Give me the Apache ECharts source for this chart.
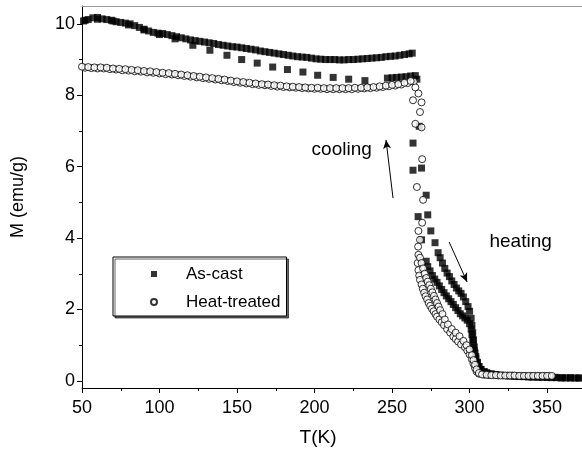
<!DOCTYPE html>
<html>
<head>
<meta charset="utf-8">
<script src="https://cdn.jsdelivr.net/npm/echarts@6/dist/echarts.min.js"></script>
<style>
  html, body { margin: 0; padding: 0; background: #fff; }
  #chart { width: 582px; height: 455px; }
</style>
</head>
<body>
<div id="chart"></div>
<script>
var FONT = "'Liberation Sans', Arial, sans-serif";

// tick labels
var xMajor = [50, 100, 150, 200, 250, 300, 350];
var xMinor = [75, 125, 175, 225, 275, 325, 375];
var yMajor = [0, 2, 4, 6, 8, 10];
var yMinor = [1, 3, 5, 7, 9];

// As-cast (filled squares), two branches [T (K), M (emu/g)]
var asCastHeat = [
  [51, 10.08], [54, 10.12], [57, 10.17], [60, 10.18], [63, 10.14], [66, 10.12], [69, 10.1], [72, 10.06],
  [75, 10.04], [78, 10.02], [81, 10.0], [84, 9.95], [87, 9.9], [90, 9.85], [93, 9.8], [96, 9.76],
  [99, 9.74], [102, 9.73], [105, 9.7], [108, 9.67], [111, 9.64], [114, 9.61], [117, 9.58], [120, 9.55],
  [123, 9.53], [126, 9.51], [129, 9.49], [132, 9.47], [135, 9.45], [138, 9.42], [141, 9.4], [144, 9.38],
  [147, 9.36], [150, 9.35], [153, 9.33], [156, 9.31], [159, 9.29], [162, 9.27], [165, 9.24], [168, 9.22],
  [171, 9.2], [174, 9.18], [177, 9.16], [180, 9.14], [183, 9.12], [186, 9.1], [189, 9.08], [192, 9.07],
  [195, 9.06], [198, 9.04], [201, 9.02], [204, 9.01], [207, 9.0], [210, 9.0], [213, 9.0], [216, 8.99],
  [219, 8.99], [222, 9.0], [225, 9.0], [228, 9.01], [231, 9.02], [234, 9.03], [237, 9.04], [240, 9.05],
  [243, 9.06], [246, 9.08], [249, 9.09], [252, 9.1], [255, 9.12], [258, 9.14], [261, 9.16], [263, 9.18],
  [265, 8.55], [263.5, 6.66], [269, 5.96], [266.8, 4.6], [275, 4.2], [277.7, 3.87], [279.7, 3.59],
  [281, 3.45], [282.5, 3.3], [284, 3.15], [285.5, 3.02], [287, 2.92], [288.5, 2.8], [290, 2.7], [291.5, 2.6],
  [293, 2.52], [294.5, 2.45], [296, 2.35], [297.5, 2.22], [299, 2.08], [300, 1.95], [301, 1.75], [301.5, 1.55],
  [302, 1.35], [302.5, 1.15], [303, 0.95], [303.5, 0.78], [304, 0.62], [305, 0.5], [306, 0.4], [307.5, 0.32],
  [309.5, 0.26], [311, 0.23], [314, 0.2], [317, 0.18], [320, 0.16], [323, 0.15], [326, 0.14], [329, 0.13],
  [332, 0.12], [335, 0.12], [338, 0.11], [341, 0.11], [344, 0.1], [347, 0.1], [350, 0.1], [353, 0.09],
  [356, 0.09], [359, 0.08], [362, 0.08], [365, 0.08], [368, 0.08], [371, 0.08]
];
var asCastCool = [
  [52, 10.1], [60, 10.13], [70, 10.08], [80, 9.97], [90, 9.83], [100, 9.7], [110, 9.58], [121.5, 9.4],
  [132.5, 9.26], [143.5, 9.12], [153, 9.0], [163, 8.9], [173, 8.79], [182.5, 8.72], [192.5, 8.65], [202, 8.56],
  [212, 8.5], [222, 8.45], [232.5, 8.41], [247, 8.48], [250, 8.49], [253, 8.5], [256, 8.51], [259, 8.52],
  [262, 8.54], [266, 8.45], [267.5, 7.13], [263.5, 5.9], [272, 5.2], [273, 4.65], [269, 3.95],
  [272, 3.35], [273, 3.2], [274.5, 3.08], [276, 2.95], [277.5, 2.85], [279, 2.76], [280.5, 2.66], [282, 2.56],
  [283.5, 2.47], [285, 2.38], [286.5, 2.3], [288, 2.22], [289.5, 2.14], [291, 2.05], [292.5, 1.97], [294, 1.88],
  [295.5, 1.82], [297, 1.76], [298.5, 1.7], [300, 1.6], [301, 1.45], [301.5, 1.3], [302, 1.15], [302.5, 1.0],
  [303, 0.85], [304, 0.68], [305, 0.52], [306, 0.4], [307, 0.32], [309, 0.25], [312, 0.2], [316, 0.17],
  [320, 0.15], [325, 0.14], [330, 0.13], [335, 0.12], [340, 0.11], [345, 0.11], [350, 0.1], [355, 0.1],
  [360, 0.09], [365, 0.09], [370, 0.08]
];

// Heat-treated (open circles), two branches
var heatTreatedHeat = [
  [50, 8.8], [54, 8.79], [58, 8.78], [62, 8.78], [66, 8.77], [70, 8.75], [74, 8.74], [78, 8.73],
  [82, 8.71], [86, 8.7], [90, 8.68], [94, 8.67], [98, 8.65], [102, 8.63], [106, 8.62], [110, 8.6],
  [114, 8.58], [118, 8.56], [122, 8.54], [126, 8.52], [130, 8.5], [134, 8.48], [138, 8.46], [142, 8.44],
  [146, 8.41], [150, 8.39], [154, 8.37], [158, 8.35], [162, 8.33], [166, 8.31], [170, 8.3], [174, 8.28],
  [178, 8.27], [182, 8.25], [186, 8.24], [190, 8.23], [194, 8.22], [198, 8.21], [202, 8.21], [206, 8.2],
  [210, 8.2], [214, 8.2], [218, 8.2], [222, 8.2], [226, 8.21], [230, 8.21], [234, 8.22], [238, 8.23],
  [242, 8.25], [246, 8.27], [250, 8.29], [254, 8.31], [258, 8.35], [262, 8.4],
  [265, 8.22], [263.5, 7.86], [268, 7.53], [269, 7.1], [269.4, 6.21], [270, 5.07], [267, 4.2], [266.8, 3.76],
  [268, 3.45], [269, 3.3], [270, 3.15], [271, 3.0], [272, 2.88], [273, 2.78], [274, 2.68], [275, 2.58],
  [276, 2.48], [277, 2.38], [278, 2.28], [279, 2.18], [280, 2.08], [281, 1.98], [282.5, 1.87], [284, 1.72],
  [286, 1.58], [288.5, 1.45], [291, 1.35], [293.5, 1.25], [296, 1.12], [298, 1.0], [300, 0.88], [301.5, 0.72],
  [302.5, 0.58], [303.5, 0.45], [304.5, 0.32], [306, 0.22], [308, 0.18], [311, 0.17], [314, 0.16], [317, 0.16],
  [320, 0.15], [323, 0.15], [326, 0.15], [329, 0.15], [332, 0.14], [335, 0.14], [338, 0.14], [341, 0.14],
  [344, 0.14], [347, 0.14], [350, 0.14], [353, 0.14]
];
var heatTreatedCool = [
  [52, 8.77], [56, 8.76], [60, 8.75], [64, 8.75], [68, 8.73], [72, 8.72], [76, 8.7], [80, 8.69],
  [84, 8.67], [88, 8.66], [92, 8.64], [96, 8.63], [100, 8.61], [104, 8.59], [108, 8.58], [112, 8.56],
  [116, 8.54], [120, 8.52], [124, 8.5], [128, 8.48], [132, 8.46], [136, 8.44], [140, 8.42], [144, 8.4],
  [148, 8.37], [152, 8.35], [156, 8.33], [160, 8.31], [164, 8.29], [168, 8.28], [172, 8.26], [176, 8.24],
  [180, 8.23], [184, 8.22], [188, 8.21], [192, 8.2], [196, 8.19], [200, 8.18], [204, 8.18], [208, 8.17],
  [212, 8.17], [216, 8.17], [220, 8.17], [224, 8.17], [228, 8.18], [232, 8.19], [236, 8.2], [240, 8.21],
  [244, 8.23], [248, 8.25], [252, 8.27], [256, 8.3], [260, 8.34], [264, 8.38],
  [267, 8.05], [269, 7.8], [265, 7.2], [266, 5.43], [269.4, 4.43], [268, 3.95], [267, 3.53], [266.5, 3.3],
  [267, 3.1], [267.5, 2.95], [268, 2.83], [269, 2.7], [269.8, 2.58], [270.7, 2.47], [271.6, 2.37], [272.6, 2.28],
  [273.6, 2.18], [274.6, 2.1], [275.7, 2.02], [276.8, 1.95], [278, 1.87], [279, 1.8], [280.5, 1.72], [282, 1.64],
  [283.5, 1.56], [285.5, 1.45], [287.5, 1.35], [289.5, 1.24], [291, 1.17], [292.6, 1.1], [294.5, 1.02], [297, 0.94],
  [298.5, 0.85], [300, 0.74], [301.5, 0.6], [302.5, 0.48], [303.5, 0.36], [304.5, 0.26], [306, 0.2], [309.5, 0.17],
  [312.5, 0.16], [315.5, 0.16], [318.5, 0.15], [321.5, 0.15], [324.5, 0.15], [327.5, 0.15], [330.5, 0.14], [333.5, 0.14],
  [336.5, 0.14], [339.5, 0.14], [342.5, 0.14], [345.5, 0.14], [348.5, 0.14], [351.5, 0.14]
];

// annotation arrows and labels (data coordinates)
var coolingArrow = [[250.6, 5.12], [246.1, 6.75]];
var heatingArrow = [[286.8, 3.89], [298.4, 2.77]];
var coolingLabel = [217.5, 6.47];
var heatingLabel = [332.9, 3.9];

var chart = echarts.init(document.getElementById('chart'));

var squareStyle = { color: '#000' };
var circleStyle = { color: '#fff', borderColor: '#000', borderWidth: 1 };

var option = {
  animation: false,
  backgroundColor: '#fff',
  textStyle: { fontFamily: FONT },
  grid: { left: 82, right: 0, top: 6, bottom: 67, containLabel: false },
  legend: {
    data: ['As-cast', 'Heat-treated'],
    orient: 'vertical',
    left: 113,
    top: 257,
    padding: [7, 6, 4, 37],
    itemGap: 8,
    itemWidth: 6,
    itemHeight: 6,
    selectedMode: false,
    backgroundColor: '#fff',
    borderColor: '#000',
    borderWidth: 1,
    shadowColor: 'rgba(0,0,0,0.6)',
    shadowOffsetX: 2,
    shadowOffsetY: 2,
    textStyle: { fontSize: 17, lineHeight: 20, color: '#000', fontFamily: FONT, padding: [0, 0, 0, 24] }
  },
  xAxis: [
    {
      type: 'value', min: 50, max: 372.5, position: 'bottom',
      name: 'T(K)', nameLocation: 'middle', nameGap: 40,
      nameTextStyle: { fontSize: 19, color: '#000', fontFamily: FONT, padding: [0, 28, 0, 0] },
      axisLine: { show: true, onZero: false, lineStyle: { color: '#000', width: 1 } },
      axisTick: { show: true, length: 5, customValues: xMajor, lineStyle: { color: '#000' } },
      axisLabel: { customValues: xMajor, fontSize: 18, color: '#000', fontFamily: FONT, margin: 11 },
      splitLine: { show: false }
    },
    {
      type: 'value', min: 50, max: 372.5, position: 'bottom',
      axisLine: { show: false, onZero: false },
      axisTick: { show: true, length: 3, customValues: xMinor, lineStyle: { color: '#000' } },
      axisLabel: { show: false },
      splitLine: { show: false }
    },
    {
      type: 'value', min: 50, max: 372.5, position: 'top',
      axisLine: { show: true, onZero: false, lineStyle: { color: '#999', width: 1 } },
      axisTick: { show: false },
      axisLabel: { show: false },
      splitLine: { show: false }
    }
  ],
  yAxis: [
    {
      type: 'value', min: -0.2, max: 10.5, position: 'left',
      name: 'M (emu/g)', nameLocation: 'middle', nameGap: 55,
      nameTextStyle: { fontSize: 18, color: '#000', fontFamily: FONT },
      axisLine: { show: true, onZero: false, lineStyle: { color: '#000', width: 1 } },
      axisTick: { show: true, length: 5, customValues: yMajor, lineStyle: { color: '#000' } },
      axisLabel: { customValues: yMajor, fontSize: 18, color: '#000', fontFamily: FONT, margin: 7 },
      splitLine: { show: false }
    },
    {
      type: 'value', min: -0.2, max: 10.5, position: 'left',
      axisLine: { show: false, onZero: false },
      axisTick: { show: true, length: 3, customValues: yMinor, lineStyle: { color: '#000' } },
      axisLabel: { show: false },
      splitLine: { show: false }
    }
  ],
  series: [
    { name: 'As-cast', type: 'scatter', symbol: 'rect', symbolSize: 7, itemStyle: squareStyle, data: asCastCool, z: 2 },
    { name: 'As-cast', type: 'scatter', symbol: 'rect', symbolSize: 7, itemStyle: squareStyle, data: asCastHeat, z: 2 },
    { name: 'Heat-treated', type: 'scatter', symbol: 'circle', symbolSize: 7, itemStyle: circleStyle, data: heatTreatedCool, z: 3 },
    { name: 'Heat-treated', type: 'scatter', symbol: 'circle', symbolSize: 7, itemStyle: circleStyle, data: heatTreatedHeat, z: 3 },
    {
      name: 'notes', type: 'scatter', data: [], z: 4,
      markLine: {
        silent: true,
        symbol: ['none', 'arrow'],
        symbolSize: [6, 9],
        label: { show: false },
        lineStyle: { color: '#000', width: 1, type: 'solid' },
        data: [
          [{ coord: coolingArrow[0] }, { coord: coolingArrow[1] }],
          [{ coord: heatingArrow[0] }, { coord: heatingArrow[1] }]
        ]
      },
      markPoint: {
        silent: true,
        symbol: 'rect',
        symbolSize: 1,
        itemStyle: { color: 'rgba(0,0,0,0)' },
        label: { show: true, position: 'inside', formatter: '{b}', color: '#000', fontSize: 19, fontFamily: FONT },
        data: [
          { name: 'cooling', coord: coolingLabel },
          { name: 'heating', coord: heatingLabel }
        ]
      }
    }
  ]
};

chart.setOption(option);
</script>
</body>
</html>
